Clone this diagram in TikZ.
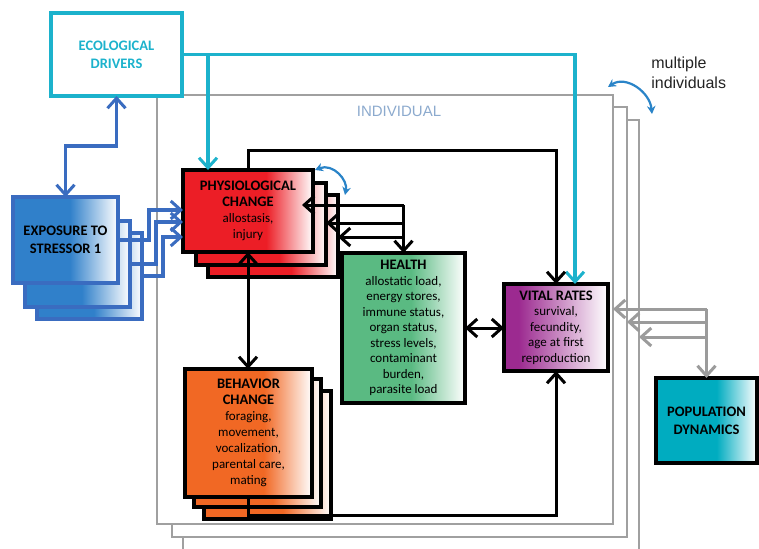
\documentclass[tikz,border=0pt]{standalone}
\usepackage{fontspec}
\setmainfont{Carlito}
\newfontfamily\arialfont{Liberation Sans}
\usetikzlibrary{arrows.meta}
\definecolor{physred}{RGB}{236,30,38}
\definecolor{expblue}{RGB}{48,128,202}
\definecolor{expedge}{RGB}{58,108,192}
\definecolor{behor}{RGB}{241,104,36}
\definecolor{hgreen}{RGB}{90,186,130}
\definecolor{vpurp}{RGB}{156,42,144}
\definecolor{popteal}{RGB}{0,172,192}
\definecolor{ecocyan}{RGB}{28,178,204}
\definecolor{curveblue}{RGB}{42,132,200}
\definecolor{framegray}{RGB}{160,160,160}
\definecolor{arrgray}{RGB}{155,155,155}
\definecolor{indiv}{RGB}{140,170,206}
\definecolor{multitext}{RGB}{35,35,35}
\pgfdeclarehorizontalshading{physshade}{100bp}{color(0bp)=(physred); color(25bp)=(physred); color(57bp)=(physred); color(75bp)=(white); color(100bp)=(white)}
\pgfdeclarehorizontalshading{expshade}{100bp}{color(0bp)=(expblue); color(25bp)=(expblue); color(52bp)=(expblue); color(75bp)=(white); color(100bp)=(white)}
\pgfdeclarehorizontalshading{behshade}{100bp}{color(0bp)=(behor); color(25bp)=(behor); color(56bp)=(behor); color(75bp)=(white); color(100bp)=(white)}
\pgfdeclarehorizontalshading{healthshade}{100bp}{color(0bp)=(hgreen); color(25bp)=(hgreen); color(53bp)=(hgreen); color(75bp)=(white); color(100bp)=(white)}
\pgfdeclarehorizontalshading{vitalshade}{100bp}{color(0bp)=(vpurp); color(25bp)=(vpurp); color(32bp)=(vpurp); color(75bp)=(white); color(100bp)=(white)}
\pgfdeclarehorizontalshading{popshade}{100bp}{color(0bp)=(popteal); color(25bp)=(popteal); color(55bp)=(popteal); color(75bp)=(white); color(100bp)=(white)}
\newcommand{\mybody}{\fontsize{13}{16}\selectfont}
\newcommand{\mytitle}[1]{{\fontsize{14.5}{16}\selectfont\bfseries #1}}
\begin{document}
\begin{tikzpicture}[x=1pt,y=-1pt,
  every node/.style={outer sep=0pt},
  >={Straight Barb[length=10pt,width=18pt,line width=3pt]},
  frame/.style={draw=framegray, line width=1.6pt, fill=white, rectangle, anchor=north west, inner sep=0pt},
  sbox/.style={draw=black, rectangle, anchor=north west, inner sep=0pt, line width=3.4pt, align=center, font=\mybody},
  ebox/.style={draw=expedge, rectangle, anchor=north west, inner sep=0pt, line width=3.2pt, align=center, shade, shading=expshade, minimum width=105pt, minimum height=86pt},
  pbox/.style={sbox, shade, shading=physshade, minimum width=130pt, minimum height=82pt},
  bbox/.style={sbox, shade, shading=behshade, minimum width=127pt, minimum height=128pt},
  karr/.style={draw=black, line width=3pt},
  barr/.style={draw=expedge, line width=3.2pt},
  carr/.style={draw=ecocyan, line width=3.2pt},
  garr/.style={draw=arrgray, line width=3pt},
  curv/.style={draw=curveblue, line width=2.2pt, {Stealth[length=8pt,width=8.5pt]}-{Stealth[length=8pt,width=8.5pt]}}
]
\useasboundingbox (0,0) rectangle (759,548);
\clip (0,0) rectangle (759,548);

% individual frames
\node[frame, minimum width=456pt, minimum height=440pt] (frame3) at (183,120) {};
\node[frame, minimum width=455pt, minimum height=430pt] (frame2) at (172,107) {};
\node[frame, minimum width=456pt, minimum height=429pt] (frame1) at (157,95) {};
\node[font=\arialfont\fontsize{15}{18}\selectfont, text=indiv] (indlabel) at (399,111) {INDIVIDUAL};

% multiple individuals
\node[anchor=west, align=left, font=\arialfont\fontsize{16}{20}\selectfont, text=multitext] (multi) at (648,73) {multiple\\individuals};
\coordinate (ma) at (608,87);
\coordinate (mb) at (652,114);
\draw[curv] (ma) .. controls (626,75) and (650,92) .. (mb);

% ecological drivers
\node[draw=ecocyan, line width=3.2pt, rectangle, anchor=north west, minimum width=131pt, minimum height=83pt, inner sep=0pt, align=center, text=ecocyan, font=\fontsize{14.5}{18}\selectfont\bfseries] (eco) at (51,13) {ECOLOGICAL\\DRIVERS};

% exposure
\node[ebox] (exp3) at (37,233) {};
\node[ebox] (exp2) at (25,221) {};
\node[ebox, font=\fontsize{14.5}{18}\selectfont\bfseries] (exp1) at (13,197) {EXPOSURE TO\\STRESSOR 1};

% physiological change
\node[pbox] (phys3) at (208,195) {};
\node[pbox] (phys2) at (196,183) {};
\node[pbox] (phys1) at (183,170) {\mytitle{PHYSIOLOGICAL}\\\mytitle{CHANGE}\\allostasis,\\injury};

% behavior change
\node[bbox] (beh3) at (204,391) {};
\node[bbox] (beh2) at (194,379) {};
\node[bbox] (beh1) at (185,369) {\mytitle{BEHAVIOR}\\\mytitle{CHANGE}\\foraging,\\movement,\\vocalization,\\parental care,\\mating};

% health
\node[sbox, shade, shading=healthshade, minimum width=123pt, minimum height=150pt, font=\fontsize{13}{15.5}\selectfont] (health) at (342,253) {\mytitle{HEALTH}\\allostatic load,\\energy stores,\\immune status,\\organ status,\\stress levels,\\contaminant\\burden,\\parasite load};

% vital rates
\node[sbox, shade, shading=vitalshade, minimum width=104pt, minimum height=87pt, font=\fontsize{13}{15.5}\selectfont] (vital) at (504,284) {\mytitle{VITAL RATES}\\survival,\\fecundity,\\age at first\\reproduction};

% population dynamics
\node[sbox, shade, shading=popshade, minimum width=101pt, minimum height=85pt, font=\fontsize{14.5}{18}\selectfont\bfseries] (pop) at (656,378) {POPULATION\\DYNAMICS};

% eco <-> exposure
\draw[barr,<->] (eco.south) -- (eco.south |- 0,146) -| (exp1.north);

% cyan connectors
\coordinate (cyc) at (575,54.5);
\coordinate (cyb) at (208,54.5);
\draw[carr,->] (eco.east) -- (cyc) -- (cyc |- vital.north);
\draw[carr,->] (cyb) -- (cyb |- phys1.north);

% exposure -> physiological
\draw[barr,->] (exp1.east) -| (149,210) -- (phys1.west |- 0,210);
\draw[barr,->] (exp2.east) -| (156,222) -- (phys1.west |- 0,222);
\draw[barr,->] (exp3.east) -| (163,237) -- (phys1.west |- 0,237);

% physiological <-> health
\coordinate (hj) at (health.north |- 0,205);
\draw[karr,->] (hj) -- (health.north);
\draw[karr,->,shorten >=-11pt] (hj) -- (phys1.east |- hj);
\draw[karr,->] (hj |- 0,223) -- (phys2.east |- 0,223);
\draw[karr,->] (hj |- 0,237) -- (phys3.east |- 0,237);

% physiological -> vital rates
\draw[karr,->] (phys1.north) |- (vital.north |- 0,151) -- (vital.north);

% physiological <-> behavior
\draw[karr,<->] (phys1.south) -- (phys1.south |- beh1.north);

% health <-> vital
\draw[karr,<->] (health.east) -- (vital.west |- health.east);

% behavior -> vital
\draw[karr,->] (beh1.south) -- (beh1.south |- 0,515) -| (vital.south);

% population <-> individuals
\coordinate (g1) at (pop.north |- 0,309);
\draw[garr,->] (g1) -- (pop.north);
\draw[garr,->] (g1) -- (g1 -| frame1.east);
\draw[garr,->] (pop.north |- 0,322) -- (frame2.east |- 0,322);
\draw[garr,->] (pop.north |- 0,337) -- (frame3.east |- 0,337);

% physiological stack curved arrow
\coordinate (pa) at (315,170);
\coordinate (pb) at (345,195);
\draw[curv] (pa) .. controls (333,163) and (348,180) .. (pb);
\end{tikzpicture}
\end{document}
